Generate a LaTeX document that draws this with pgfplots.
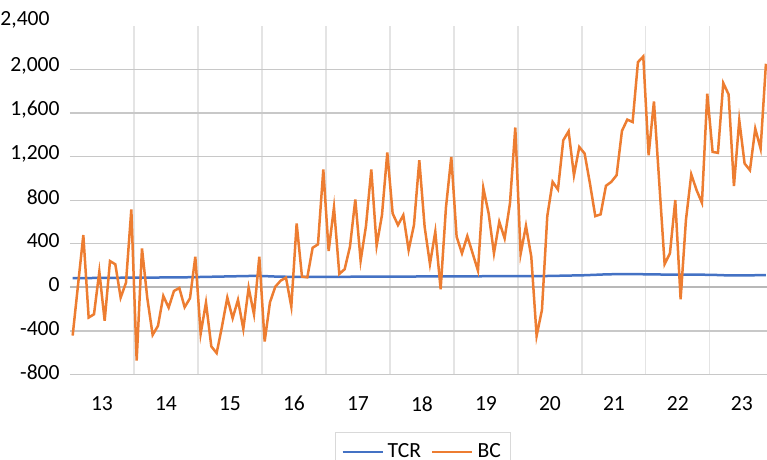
\documentclass[border=0pt]{standalone}
\usepackage{pgfplots}
\pgfplotsset{compat=1.18}
\usepackage{fontspec}
\setmainfont{Carlito}
\definecolor{tcr}{HTML}{4472C4}
\definecolor{bc}{HTML}{ED7D31}
\definecolor{gridc}{HTML}{C8C8C8}
\definecolor{vgridc}{HTML}{E4E4E4}
\definecolor{legc}{HTML}{D9D9D9}
\definecolor{zeroc}{HTML}{B8B8B8}
\begin{document}
\begin{tikzpicture}
\path[use as bounding box] (-35bp,-42.65bp) rectangle (348.5bp,187.35bp);
\begin{axis}[
  at={(0,0)}, anchor=south west,
  scale only axis, width=348.5bp, height=174.5bp,
  xmin=-0.5, xmax=130.2, ymin=-800, ymax=2400,
  axis line style={draw=none},
  font=\fontsize{10.8bp}{13bp}\selectfont,
  xmajorgrids=true, ymajorgrids=true,
  x grid style={vgridc, line width=0.55bp},
  y grid style={gridc, line width=0.6bp},
  xtick={11.5,23.5,35.5,47.5,59.5,71.5,83.5,95.5,107.5,119.5},
  xticklabels={},
  extra x ticks={5.5,17.5,29.5,41.5,53.5,65.5,77.5,89.5,101.5,113.5,125.5},
  extra x tick labels={13,14,15,16,17,18,19,20,21,22,23},
  extra x tick style={grid=none, major tick length=0pt,
    xticklabel style={anchor=north, inner sep=0pt, yshift=-5.3bp}},
  major tick length=0pt,
  xticklabel style={anchor=north, inner sep=0pt, yshift=-5.3bp},
  ytick={-800,-400,0,400,800,1200,1600,2000},
  yticklabels={-800,-400,0,400,800,{1,200},{1,600},{2,000}},
  yticklabel style={anchor=east, inner sep=0pt, xshift=-5bp, yshift=1.5bp},
  extra y ticks={2400},
  extra y tick labels={{2{,}400}},
  extra y tick style={grid=none, major tick length=0pt,
    yticklabel style={anchor=east, inner sep=0pt, xshift=-5bp, yshift=1.5bp}},
  legend columns=2,
  legend style={at={(0.5065,-0.1642)}, anchor=north, draw=legc, line width=0.5bp,
    font=\fontsize{10.8bp}{13bp}\selectfont, inner xsep=3bp, inner ysep=3.5bp,
    /tikz/every even column/.append style={column sep=3bp}},
  legend image code/.code={\draw[#1] (0bp,0bp) -- (20bp,0bp);},
]
\addplot[zeroc, line width=1bp, forget plot] coordinates {(-0.5,0) (131,0)};
\addplot[tcr, line width=1.25bp] coordinates {
(0,85)(1,85)(2,86)(3,86)(4,87)(5,87)(6,88)(7,88)(8,88)(9,89)(10,89)(11,90)
(12,90)(13,90)(14,91)(15,91)(16,91)(17,92)(18,92)(19,92)(20,93)(21,93)(22,94)(23,95)
(24,96)(25,97)(26,98)(27,99)(28,100)(29,101)(30,102)(31,103)(32,104)(33,105)(34,106)(35,106)
(36,104)(37,102)(38,100)(39,99)(40,98)(41,98)(42,97)(43,97)(44,97)(45,98)(46,98)(47,98)
(48,98)(49,98)(50,98)(51,98)(52,98)(53,99)(54,99)(55,99)(56,99)(57,100)(58,100)(59,100)
(60,100)(61,100)(62,100)(63,100)(64,100)(65,101)(66,101)(67,101)(68,101)(69,101)(70,102)(71,102)
(72,102)(73,102)(74,102)(75,102)(76,102)(77,103)(78,103)(79,103)(80,104)(81,104)(82,104)(83,105)
(84,105)(85,105)(86,104)(87,104)(88,104)(89,105)(90,106)(91,107)(92,108)(93,109)(94,110)(95,111)
(96,112)(97,114)(98,116)(99,118)(100,120)(101,121)(102,122)(103,123)(104,123)(105,123)(106,122)(107,121)
(108,120)(109,119)(110,119)(111,118)(112,118)(113,118)(114,118)(115,118)(116,118)(117,117)(118,117)(119,116)
(120,115)(121,114)(122,112)(123,111)(124,110)(125,110)(126,110)(127,111)(128,112)(129,113)(130,114)
};
\addlegendentry{TCR}
\addplot[bc, line width=1.25bp] coordinates {
(0,-441)(1,20)(2,480)(3,-276)(4,-246)(5,145)(6,-306)(7,242)(8,212)(9,-93)(10,44)(11,715)
(12,-670)(13,358)(14,-100)(15,-435)(16,-352)(17,-78)(18,-185)(19,-32)(20,-5)(21,-181)(22,-99)(23,282)
(24,-425)(25,-139)(26,-541)(27,-602)(28,-358)(29,-93)(30,-282)(31,-114)(32,-380)(33,-2)(34,-246)(35,282)
(36,-496)(37,-136)(38,7)(39,62)(40,90)(41,-175)(42,587)(43,99)(44,93)(45,364)(46,395)(47,1081)
(48,334)(49,734)(50,124)(51,167)(52,374)(53,807)(54,245)(55,563)(56,1081)(57,383)(58,663)(59,1237)
(60,679)(61,572)(62,663)(63,343)(64,572)(65,1167)(66,556)(67,215)(68,511)(69,-17)(70,734)(71,1197)
(72,465)(73,313)(74,471)(75,313)(76,154)(77,913)(78,679)(79,313)(80,602)(81,450)(82,770)(83,1466)
(84,307)(85,565)(86,282)(87,-444)(88,-206)(89,654)(90,968)(91,898)(92,1350)(93,1432)(94,1029)(95,1288)
(96,1228)(97,953)(98,654)(99,670)(100,932)(101,968)(102,1029)(103,1435)(104,1539)(105,1517)(106,2066)(107,2118)
(108,1212)(109,1706)(110,960)(111,215)(112,313)(113,801)(114,-108)(115,618)(116,1036)(117,892)(118,776)(119,1777)
(120,1243)(121,1234)(122,1874)(123,1770)(124,929)(125,1533)(126,1136)(127,1075)(128,1456)(129,1273)(130,2051)
};
\addlegendentry{BC}
\end{axis}
\end{tikzpicture}
\end{document}
